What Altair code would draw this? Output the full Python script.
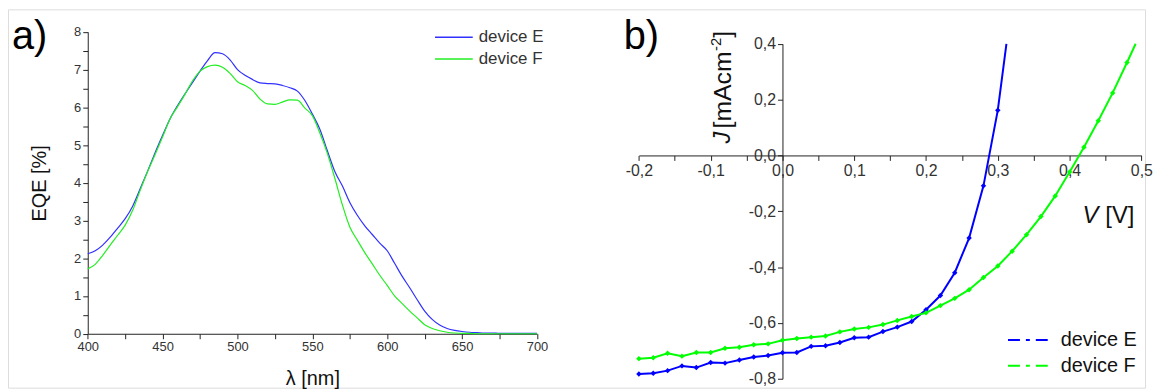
import altair as alt
import pandas as pd

FONT = "Liberation Sans"

# ---------- panel a) EQE spectra ----------
wavelength = [400, 405, 410, 415, 420, 425, 430, 435, 440, 445,
              450, 455, 460, 465, 470, 475, 480, 485, 490, 495,
              500, 505, 510, 515, 520, 525, 530, 535, 540, 545,
              550, 555, 560, 565, 570, 575, 580, 585, 590, 595,
              600, 605, 610, 615, 620, 625, 630, 635, 640, 645,
              650, 655, 660, 665, 670, 675, 680, 685, 690, 695, 700]
eqe_E = [2.12, 2.20, 2.35, 2.56, 2.80, 3.05, 3.38, 3.84, 4.31, 4.80,
         5.26, 5.70, 6.05, 6.36, 6.66, 6.96, 7.24, 7.45, 7.42, 7.26,
         7.00, 6.85, 6.74, 6.65, 6.63, 6.62, 6.58, 6.52, 6.43, 6.18,
         5.82, 5.42, 4.85, 4.30, 3.92, 3.48, 3.14, 2.86, 2.63, 2.40,
         2.20, 1.86, 1.52, 1.22, 0.90, 0.60, 0.38, 0.23, 0.14, 0.09,
         0.06, 0.04, 0.03, 0.02, 0.02, 0.01, 0.01, 0.01, 0.01, 0.01, 0.01]
eqe_F = [1.72, 1.84, 2.08, 2.35, 2.61, 2.88, 3.27, 3.80, 4.30, 4.75,
         5.22, 5.70, 6.02, 6.35, 6.70, 6.96, 7.08, 7.12, 7.06, 6.90,
         6.68, 6.58, 6.45, 6.22, 6.09, 6.08, 6.14, 6.20, 6.19, 5.98,
         5.78, 5.32, 4.78, 4.12, 3.42, 2.83, 2.48, 2.15, 1.85, 1.55,
         1.28, 1.00, 0.80, 0.60, 0.42, 0.24, 0.14, 0.08, 0.04, 0.02,
         0.01, 0.01, 0.00, 0.00, 0.00, 0.00, 0.00, 0.00, 0.00, 0.00, 0.00]

# ---------- panel b) J-V curves (last entry = where the curve leaves the frame) ----------
V_E = [-0.20, -0.18, -0.16, -0.14, -0.12, -0.10, -0.08, -0.06, -0.04, -0.02,
       0.00, 0.02, 0.04, 0.06, 0.08, 0.10, 0.12, 0.14, 0.16, 0.18,
       0.20, 0.22, 0.24, 0.26, 0.28, 0.30, 0.312]
J_E = [-0.783, -0.780, -0.771, -0.754, -0.760, -0.742, -0.744, -0.733, -0.722, -0.717,
       -0.707, -0.706, -0.684, -0.682, -0.670, -0.653, -0.651, -0.631, -0.615, -0.595,
       -0.553, -0.502, -0.420, -0.296, -0.109, 0.162, 0.400]
V_F = [-0.20, -0.18, -0.16, -0.14, -0.12, -0.10, -0.08, -0.06, -0.04, -0.02,
       0.00, 0.02, 0.04, 0.06, 0.08, 0.10, 0.12, 0.14, 0.16, 0.18,
       0.20, 0.22, 0.24, 0.26, 0.28, 0.30, 0.32, 0.34, 0.36, 0.38,
       0.40, 0.42, 0.44, 0.46, 0.48, 0.492]
J_F = [-0.728, -0.725, -0.709, -0.719, -0.706, -0.706, -0.691, -0.687, -0.678, -0.675,
       -0.662, -0.656, -0.651, -0.647, -0.632, -0.622, -0.616, -0.606, -0.591, -0.577,
       -0.564, -0.538, -0.512, -0.481, -0.437, -0.396, -0.343, -0.284, -0.219, -0.145,
       -0.059, 0.029, 0.124, 0.224, 0.333, 0.400]

devices = ["device E", "device F"]
eqe_xticks = [400, 425, 450, 475, 500, 525, 550, 575, 600, 625, 650, 675, 700]
eqe_yticks = [0, 0.5, 1, 1.5, 2, 2.5, 3, 3.5, 4, 4.5, 5, 5.5, 6, 6.5, 7, 7.5, 8]
jv_xticks = [-0.2, -0.15, -0.1, -0.05, 0.0, 0.05, 0.1, 0.15, 0.2, 0.25, 0.3, 0.35, 0.4, 0.45, 0.5]
jv_yticks = [-0.8, -0.7, -0.6, -0.5, -0.4, -0.3, -0.2, -0.1, 0.0, 0.1, 0.2, 0.3, 0.4]

eqe_df = pd.DataFrame({
    "wl": wavelength + wavelength,
    "eqe": eqe_E + eqe_F,
    "dev": [devices[0]] * len(wavelength) + [devices[1]] * len(wavelength),
})
jv_df = pd.DataFrame({
    "V": V_E + V_F,
    "J": J_E + J_F,
    "dev": [devices[0]] * len(V_E) + [devices[1]] * len(V_F),
})

# whole canvas (both panels share one view; each panel gets its own pixel range)
W, H = 1145, 381
L_X = [80.3, 532.7]   # panel a plot area (x)
L_Y = [326.7, 22.7]   # panel a plot area (y, bottom -> top)
R_X = [635.3, 1141.3]  # panel b plot area (x)
R_Y = [372.0, 34.7]    # panel b plot area (y, bottom -> top)
r_zero_y = R_Y[0] - (R_Y[0] - R_Y[1]) * 0.8 / 1.2
r_zero_x = R_X[0] + (R_X[1] - R_X[0]) * 0.2 / 0.7

axis_common = dict(domainColor="#222", tickColor="#222", labelColor="#333",
                   labelFont=FONT, titleFont=FONT, titleFontWeight="normal",
                   titleColor="#111", grid=False, tickSize=5, labelPadding=2,
                   labelFlush=False, labelOverlap=False)

left_lines = alt.Chart(eqe_df).mark_line(strokeWidth=1.2, interpolate="monotone").encode(
    x=alt.X("wl:Q", scale=alt.Scale(domain=[400, 700], range=L_X, nice=False, zero=False),
            axis=alt.Axis(orient="bottom", offset=L_Y[0] - H, values=eqe_xticks,
                          labelExpr="datum.value % 50 == 0 ? format(datum.value, 'd') : ''",
                          title="λ [nm]", titleFontSize=20, labelFontSize=13,
                          titlePadding=15, **axis_common)),
    y=alt.Y("eqe:Q", scale=alt.Scale(domain=[0, 8], range=L_Y, nice=False, zero=False),
            axis=alt.Axis(orient="left", offset=-L_X[0], values=eqe_yticks,
                          labelExpr="datum.value % 1 == 0 ? format(datum.value, 'd') : ''",
                          title="EQE [%]", titleFontSize=20, labelFontSize=13,
                          titlePadding=24, **axis_common)),
    color=alt.Color("dev:N", scale=alt.Scale(domain=devices, range=["#3030ff", "#22ee22"]),
                    legend=alt.Legend(title=None, orient="none", legendX=429, legendY=20, padding=0,
                                      symbolType="stroke", symbolSize=1444, symbolStrokeWidth=1.5,
                                      labelFontSize=17, labelFont=FONT, labelColor="#333",
                                      labelOffset=5, clipHeight=16, rowPadding=5)),
)

comma_expr = "(datum.value < -0.001 ? '-' : '') + replace(format(abs(datum.value), '.1f'), '.', ',')"
jv_color = alt.Scale(domain=devices, range=["#0000ff", "#00ff00"])

right_lines = alt.Chart(jv_df).mark_line(strokeWidth=2).encode(
    x=alt.X("V:Q", scale=alt.Scale(domain=[-0.2, 0.5], range=R_X, nice=False, zero=False),
            axis=alt.Axis(orient="bottom", offset=r_zero_y - H, values=jv_xticks, title=None,
                          labelFontSize=16,
                          labelExpr="abs(round(datum.value * 100)) % 10 == 0 ? " + comma_expr + " : ''",
                          **axis_common)),
    y=alt.Y("J:Q", scale=alt.Scale(domain=[-0.8, 0.4], range=R_Y, nice=False, zero=False),
            axis=alt.Axis(orient="left", offset=-r_zero_x, values=jv_yticks, title=None,
                          labelFontSize=16,
                          labelExpr="abs(round(datum.value * 100)) % 20 == 0 ? " + comma_expr + " : ''",
                          **axis_common)),
    color=alt.Color("dev:N", scale=jv_color,
                    legend=alt.Legend(title=None, orient="none", legendX=1006, legendY=324, padding=0,
                                      symbolType="stroke", symbolSize=2116, symbolStrokeWidth=2,
                                      symbolDash=[12, 6, 4, 6], labelFontSize=20, labelFont=FONT,
                                      labelColor="#111", labelOffset=6, clipHeight=18, rowPadding=6)),
)
right_pts = alt.Chart(jv_df).transform_filter("datum.J < 0.399").mark_point(
    shape="diamond", filled=True, size=30, opacity=1
).encode(x="V:Q", y="J:Q", color=alt.Color("dev:N", scale=jv_color, legend=None))

right = alt.layer(right_lines, right_pts)


def label(text, x, y, size, angle=0, style="normal", align="left", baseline="alphabetic", color="#111"):
    kw = dict(align=align, baseline=baseline, fontSize=size, font=FONT, fontStyle=style, color=color)
    if angle:
        kw["angle"] = angle
    return alt.Chart(pd.DataFrame({"t": [text]})).mark_text(**kw).encode(
        text="t:N", x=alt.value(x), y=alt.value(y))


texts = [
    label("a)", 4, 40, 40, color="#000"),
    label("b)", 620, 40, 40, color="#000"),
    label("V", 1082, 208, 24, style="italic", baseline="middle"),
    label("[V]", 1105, 208, 24, baseline="middle"),
    label("J", 720, 135, 24, angle=270, style="italic", baseline="middle"),
    label("[mAcm", 720, 120, 25, angle=270, baseline="middle"),
    label("-2", 713, 42, 15, angle=270, baseline="middle"),
    label("]", 720, 28.7, 25, angle=270, baseline="middle"),
]

chart = alt.layer(left_lines, right, *texts).resolve_scale(
    x="independent", y="independent", color="independent"
).properties(width=W, height=H, padding=0).configure_view(stroke=None).configure(font=FONT)

chart.save("out.html", embed_options={"renderer": "svg", "actions": False})
